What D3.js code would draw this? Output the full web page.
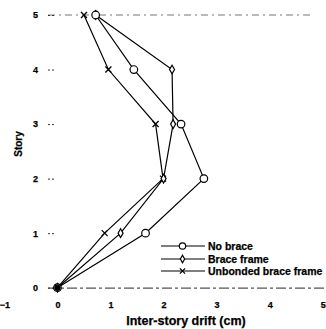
<!DOCTYPE html>
<html>
<head>
<meta charset="utf-8">
<script src="https://cdn.jsdelivr.net/npm/d3@7"></script>
<style>
  body { margin: 0; background: #fff; }
  text { font-family: "Liberation Sans", Arial, sans-serif; font-weight: bold; fill: #000; stroke: #000; stroke-width: 0.25px; }
</style>
</head>
<body>
<script>
'use strict';

// story levels and drift values (cm)
const stories = [0, 1, 2, 3, 4, 5];
const noBrace = [0, 1.66, 2.76, 2.33, 1.44, 0.72];
const braceFrame = [0, 1.19, 2.0, 2.18, 2.16, 0.72];
const unbonded = [0, 0.89, 1.99, 1.85, 0.96, 0.50];
const xTicks = [-1, 0, 1, 2, 3, 4, 5];
const yTicks = [0, 1, 2, 3, 4, 5];
const seriesNames = ["No brace", "Brace frame", "Unbonded brace frame"];

(function () {
  let svg = d3.select("body")
    .append("svg")
    .attr("width", 326)
    .attr("height", 329);

  // scales
  let xScale = d3.scaleLinear().domain([-1, 5]).range([4.4, 322.7]);
  let yScale = d3.scaleLinear().domain([0, 5]).range([287.7, 15]);

  // faint dashed frame lines (top and bottom)
  svg.append("line")
    .attr("x1", 48).attr("x2", 312)
    .attr("y1", yScale(5)).attr("y2", yScale(5))
    .attr("stroke", "#777").attr("stroke-width", 1)
    .attr("stroke-dasharray", "7,4,2,4");
  svg.append("line")
    .attr("x1", 48).attr("x2", 326)
    .attr("y1", yScale(0) + 0.5).attr("y2", yScale(0) + 0.5)
    .attr("stroke", "#555").attr("stroke-width", 1.2)
    .attr("stroke-dasharray", "10,3,3,3");

  // y axis: labels and little tick dashes, no axis line
  let yAxis = d3.axisLeft(yScale)
    .tickValues(yTicks)
    .tickSize(6)
    .tickPadding(10)
    .tickFormat(d3.format("d"));
  let gy = svg.append("g")
    .attr("transform", "translate(54,0)")
    .call(yAxis);
  gy.select(".domain").remove();
  gy.selectAll(".tick line")
    .attr("stroke", "#333")
    .attr("stroke-dasharray", "2,2");
  gy.selectAll(".tick text")
    .style("font-size", "9px")
    .style("font-family", "Liberation Sans, Arial, sans-serif")
    .style("font-weight", "bold");

  // x axis: labels only
  let xAxis = d3.axisBottom(xScale)
    .tickValues(xTicks)
    .tickSize(0)
    .tickPadding(0)
    .tickFormat(d3.format("d"));
  let gx = svg.append("g")
    .attr("transform", "translate(0,302)")
    .call(xAxis);
  gx.select(".domain").remove();
  gx.selectAll(".tick text")
    .style("font-size", "9px")
    .style("font-family", "Liberation Sans, Arial, sans-serif")
    .style("font-weight", "bold");

  // axis titles
  svg.append("text")
    .attr("x", 186)
    .attr("y", 325)
    .attr("text-anchor", "middle")
    .style("font-size", "12.5px")
    .text("Inter-story drift (cm)");

  svg.append("text")
    .attr("transform", "translate(22,144)rotate(-90)")
    .attr("text-anchor", "middle")
    .style("font-size", "10px")
    .text("Story");

  // series lines
  let allSeries = [noBrace, braceFrame, unbonded];
  let line = d3.line()
    .x((d) => xScale(d.x))
    .y((d) => yScale(d.y));

  let markers = [drawCircle, drawDiamond, drawCross];

  // draw in reverse so circles land on top
  [2, 1, 0].forEach((i) => {
    let pts = allSeries[i].map((v, k) => ({ x: v, y: stories[k] }));
    svg.append("path")
      .datum(pts)
      .attr("fill", "none")
      .attr("stroke", "#000")
      .attr("stroke-width", 1.2)
      .attr("d", line);
  });
  [2, 1, 0].forEach((i) => {
    allSeries[i].forEach((v, k) => {
      markers[i](svg, xScale(v), yScale(stories[k]));
    });
  });

  // filled blob at origin
  svg.append("circle")
    .attr("cx", xScale(0)).attr("cy", yScale(0))
    .attr("r", 3.2).attr("fill", "#000");

  // legend
  let legendY = [246, 259, 271];
  seriesNames.forEach((name, i) => {
    svg.append("line")
      .attr("x1", 161).attr("x2", 205)
      .attr("y1", legendY[i]).attr("y2", legendY[i])
      .attr("stroke", "#000").attr("stroke-width", 1.2);
    markers[i](svg, 182.5, legendY[i], true);
    svg.append("text")
      .attr("x", 208)
      .attr("y", legendY[i] + 3.8)
      .style("font-size", "10.5px")
      .text(name);
  });

  function drawCircle(g, cx, cy, small) {
    g.append("circle")
      .attr("cx", cx).attr("cy", cy).attr("r", small ? 3.2 : 3.8)
      .attr("fill", "#fff").attr("stroke", "#000").attr("stroke-width", 1.2);
  }

  function drawDiamond(g, cx, cy, small) {
    g.append("path")
      .attr("d", d3.symbol().type(d3.symbolDiamond).size(small ? 16 : 22))
      .attr("transform", "translate(" + cx + "," + cy + ")")
      .attr("fill", "#fff").attr("stroke", "#000").attr("stroke-width", 1.2);
  }

  function drawCross(g, cx, cy, small) {
    let s = small ? 2.6 : 3;
    g.append("path")
      .attr("d", "M" + (cx - s) + "," + (cy - s) + "L" + (cx + s) + "," + (cy + s) +
        "M" + (cx - s) + "," + (cy + s) + "L" + (cx + s) + "," + (cy - s))
      .attr("stroke", "#000").attr("stroke-width", 1.3);
  }
})();
</script>
</body>
</html>
